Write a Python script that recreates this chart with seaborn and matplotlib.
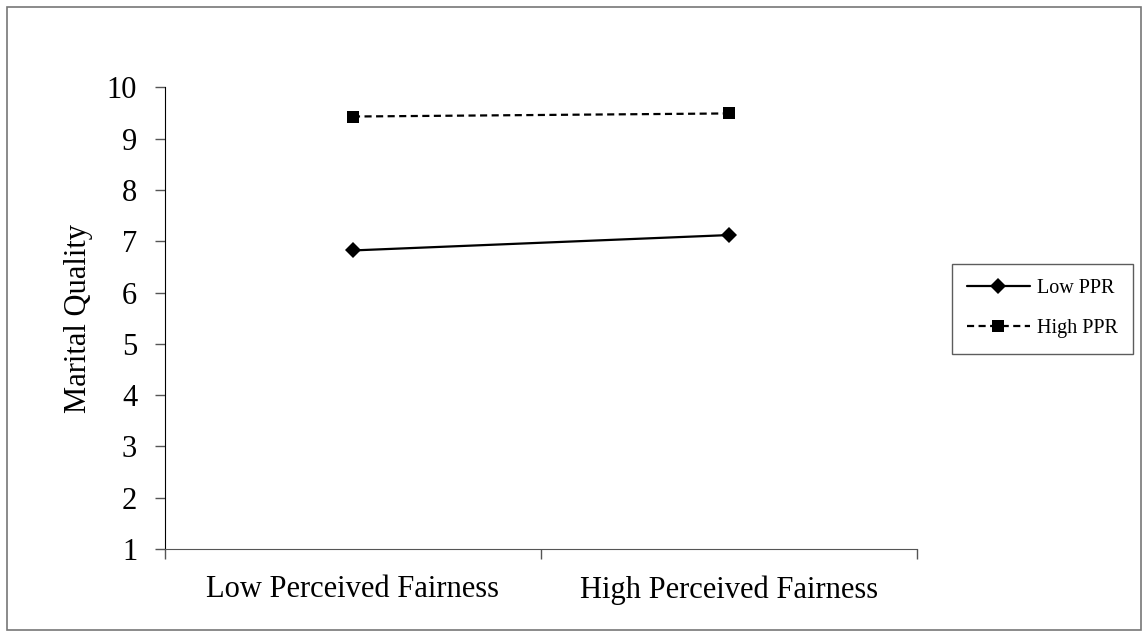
import matplotlib
matplotlib.use("Agg")
import matplotlib.pyplot as plt
from matplotlib.patches import Rectangle
import pandas as pd
import seaborn as sns

categories = ["Low Perceived Fairness", "High Perceived Fairness"]
low_ppr = [6.82, 7.12]
high_ppr = [9.43, 9.49]
groups = ["Low PPR", "High PPR"]

df = pd.DataFrame({
    "fairness": categories * 2,
    "quality": low_ppr + high_ppr,
    "ppr": [groups[0]] * 2 + [groups[1]] * 2,
})

sns.set_style("white")
plt.rcParams["font.family"] = ["Liberation Serif", "DejaVu Serif"]
plt.rcParams["text.color"] = "black"
plt.rcParams["axes.labelcolor"] = "black"
plt.rcParams["xtick.color"] = "black"
plt.rcParams["ytick.color"] = "black"

fig = plt.figure(figsize=(11.48, 6.37), dpi=100)
ax = fig.add_axes([0.1437, 0.138, 0.655, 0.725])

sns.lineplot(data=df, x="fairness", y="quality", hue="ppr", style="ppr",
             palette={"Low PPR": "black", "High PPR": "black"},
             markers={"Low PPR": "D", "High PPR": "s"},
             dashes={"Low PPR": "", "High PPR": (3.2, 2)},
             markersize=8, linewidth=1.6, markeredgewidth=0, ax=ax)

ax.set_xlim(-0.5, 1.5)
ax.set_ylim(1, 10)
ax.set_yticks(range(1, 11))
ax.set_xticks([-0.5, 0.5, 1.5])
ax.set_xticklabels([])
ax.set_xticks([0, 1], minor=True)
ax.set_xticklabels(categories, minor=True, fontsize=22)
ax.tick_params(axis="x", which="minor", bottom=True, length=0, pad=19)
ax.tick_params(axis="x", which="major", bottom=True, length=7, width=1,
               color="#555555", direction="out")
ax.tick_params(axis="y", left=True, length=7, width=1, color="#555555",
               direction="out", labelsize=22, labelcolor="black", pad=13)
ax.set_xlabel("")
ax.set_ylabel("Marital Quality", fontsize=22, labelpad=10)

for s in ["top", "right"]:
    ax.spines[s].set_visible(False)
ax.spines["left"].set_color("black")
ax.spines["bottom"].set_color("#555555")

leg = ax.legend(loc="upper left", bbox_to_anchor=(952 / 1148, 1 - 264 / 637),
                bbox_transform=fig.transFigure,
                fontsize=14.5, handlelength=3.1, frameon=True, fancybox=False,
                edgecolor="#333333", labelspacing=1.05, borderpad=0.75,
                handletextpad=0.35, borderaxespad=0)
leg.get_frame().set_linewidth(1)
for t in leg.get_texts():
    t.set_color("black")

fig.patches.append(Rectangle((7 / 1148, 7 / 637), 1 - 14 / 1148, 1 - 14 / 637,
                             transform=fig.transFigure, fill=False,
                             edgecolor="#777777", linewidth=1.2))

fig.savefig("out.png", dpi=100)
